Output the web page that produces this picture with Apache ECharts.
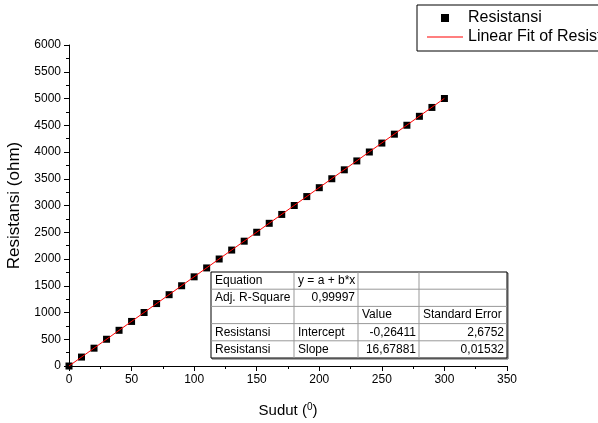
<!DOCTYPE html>
<html><head><meta charset="utf-8">
<script src="https://cdn.jsdelivr.net/npm/echarts@6/dist/echarts.min.js"></script>
<style>html,body{margin:0;padding:0;background:#fff}#c{width:598px;height:423px}</style>
</head><body><div id="c"></div>
<script>
var sudut = [0,10,20,30,40,50,60,70,80,90,100,110,120,130,140,150,160,170,180,190,200,210,220,230,240,250,260,270,280,290,300];
var resistansi = [0,167,333,500,667,833,1000,1167,1333,1500,1667,1833,2000,2167,2333,2500,2667,2833,3000,3167,3333,3500,3667,3833,4000,4167,4333,4500,4667,4833,5000];
var fitIntercept = -0.26411;
var fitSlope = 16.67881;
var fitX = [0, 300];
var tableRows = [
  ['Equation', 'y = a + b*x', '', ''],
  ['Adj. R-Square', '0,99997', '', ''],
  ['', '', 'Value', 'Standard Error'],
  ['Resistansi', 'Intercept', '-0,26411', '2,6752'],
  ['Resistansi', 'Slope', '16,67881', '0,01532']
];

var FONT = 'Liberation Sans, Arial, sans-serif';
var chart = echarts.init(document.getElementById('c'), null, {renderer:'canvas'});

var scatterData = sudut.map(function(x,i){return [x, resistansi[i]];});
var fitData = fitX.map(function(x){return [x, fitIntercept + fitSlope*x];});

// table graphic
var colX = [211, 294, 358, 419, 507];
var rowY = [272, 289.2, 306.4, 323.6, 340.8, 358];
var g = [];
g.push({type:'rect', shape:{x:colX[0]+1, y:rowY[0]+1, width:colX[4]-colX[0], height:rowY[5]-rowY[0]}, style:{fill:'none', stroke:'#555', lineWidth:1}, z:99});
g.push({type:'rect', shape:{x:colX[0], y:rowY[0], width:colX[4]-colX[0], height:rowY[5]-rowY[0]}, style:{fill:'#fff', stroke:'#000', lineWidth:1}, z:100});
for (var r=1;r<5;r++) g.push({type:'line', shape:{x1:colX[0], y1:rowY[r], x2:colX[4], y2:rowY[r]}, style:{stroke:'#999', lineWidth:1}, z:101});
for (var c=1;c<4;c++) g.push({type:'line', shape:{x1:colX[c], y1:rowY[0], x2:colX[c], y2:rowY[5]}, style:{stroke:'#999', lineWidth:1}, z:101});
tableRows.forEach(function(row, ri){
  row.forEach(function(txt, ci){
    if (!txt) return;
    var isNum = /^-?[\d,]+$/.test(txt);
    g.push({type:'text', z:102, x: isNum ? colX[ci+1]-3 : colX[ci]+4, y:(rowY[ri]+rowY[ri+1])/2,
      style:{text:txt, fill:'#000', font:'12px ' + FONT, textAlign: isNum?'right':'left', textVerticalAlign:'middle'}});
  });
});

chart.setOption({
  animation:false,
  backgroundColor:'#fff',
  textStyle:{fontFamily:FONT},
  grid:{left:69, right:91, top:45, bottom:57, containLabel:false, outerBoundsMode:'none'},
  legend:{
    orient:'vertical', left:417, top:5,
    padding:[5,60,6,10],
    borderColor:'#000', borderWidth:1,
    itemWidth:36, itemHeight:8, itemGap:3,
    symbolKeepAspect:true,
    textStyle:{fontSize:16, color:'#000', fontFamily:FONT},
    data:[
      {name:'Resistansi', icon:'path://M0,0L1,0L1,1L0,1Z'},
      {name:'Linear Fit of Resistansi', icon:'path://M0,0L36,0L36,1.2L0,1.2Z'}
    ]
  },
  xAxis:{
    type:'value', min:0, max:350, interval:50,
    name:'Sudut ({s|0})', nameLocation:'middle', nameGap:36,
    nameTextStyle:{fontSize:15, color:'#000', fontFamily:FONT, rich:{s:{fontSize:10, verticalAlign:'top', padding:[0,0,8,0]}}},
    axisLine:{show:true, onZero:false, lineStyle:{color:'#000', width:1}},
    axisTick:{show:true, inside:false, length:5, lineStyle:{color:'#000'}},
    minorTick:{show:true, splitNumber:2, length:3, lineStyle:{color:'#000'}},
    axisLabel:{fontSize:12, color:'#000', margin:8, fontFamily:FONT, formatter:function(v){return String(v);}},
    splitLine:{show:false}
  },
  yAxis:{
    type:'value', min:0, max:6000, interval:500,
    name:'Resistansi (ohm)', nameLocation:'middle', nameGap:46,
    nameTextStyle:{fontSize:17, color:'#000', fontFamily:FONT},
    axisLine:{show:true, onZero:false, lineStyle:{color:'#000', width:1}},
    axisTick:{show:true, inside:false, length:5, lineStyle:{color:'#000'}},
    minorTick:{show:true, splitNumber:2, length:3, lineStyle:{color:'#000'}},
    axisLabel:{fontSize:12, color:'#000', margin:8, fontFamily:FONT, formatter:function(v){return String(v);}},
    splitLine:{show:false}
  },
  series:[
    {name:'Resistansi', type:'scatter', data:scatterData, symbol:'rect', symbolSize:7,
      itemStyle:{color:'#000', opacity:1}, z:3},
    {name:'Linear Fit of Resistansi', type:'line', data:fitData, showSymbol:false, symbol:'none',
      lineStyle:{color:'#ff0000', width:1}, itemStyle:{color:'#ff0000'}, z:4}
  ],
  graphic:{elements:g}
});
</script></body></html>
